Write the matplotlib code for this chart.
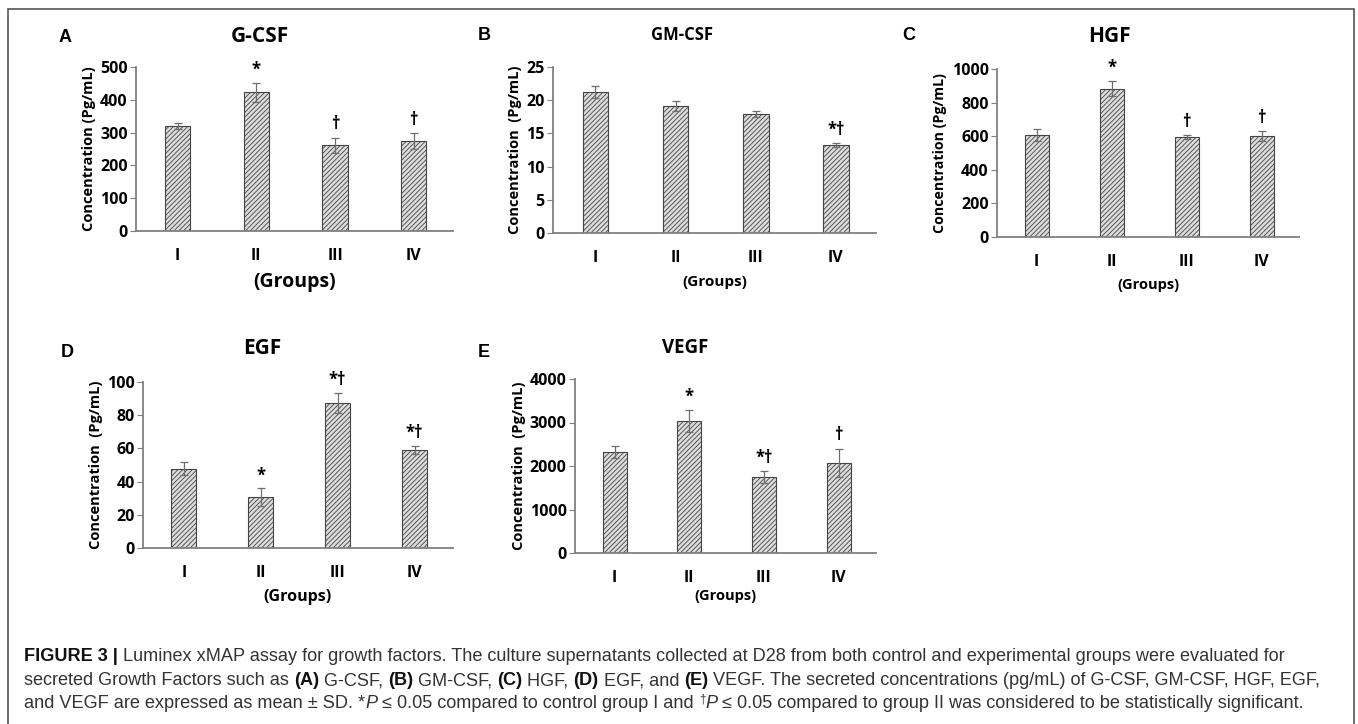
import matplotlib
matplotlib.use('Agg')
import numpy as np
import matplotlib.pyplot as plt
from matplotlib.patches import Rectangle

groups = ['I', 'II', 'III', 'IV']

gcsf = [321, 423, 261, 275]
gcsf_sd = [9, 29, 24, 24]
gcsf_sig = ['', '*', '†', '†']

gmcsf = [21.2, 19.1, 17.9, 13.2]
gmcsf_sd = [0.9, 0.8, 0.4, 0.3]
gmcsf_sig = ['', '', '', '*†']

hgf = [608, 883, 596, 600]
hgf_sd = [36, 45, 12, 28]
hgf_sig = ['', '*', '†', '†']

egf = [47.8, 30.7, 87.3, 58.8]
egf_sd = [3.8, 5.2, 5.9, 2.4]
egf_sig = ['', '*', '*†', '*†']

vegf = [2331, 3031, 1746, 2069]
vegf_sd = [138, 254, 138, 331]
vegf_sig = ['', '*', '*†', '†']

W, H = 1358, 724
fig = plt.figure(figsize=(W / 100, H / 100), dpi=100)
cfont = 'Open Sans'
plt.rcParams['hatch.linewidth'] = 0.6


def px_axes(x0, x1, ytop, ybot):
    return fig.add_axes([x0 / W, 1 - ybot / H, (x1 - x0) / W, (ybot - ytop) / H])


def panel(box, vals, sd, sig, ymax, step, title, tpos, tsize, letter, lpos,
          gsize, gy, ylab, ysize):
    ax = px_axes(*box)
    x = np.arange(len(vals))
    ax.bar(x, vals, width=0.32, color='#dcdcdc', edgecolor='#444444',
           hatch='///////', linewidth=0.8, zorder=2)
    ax.errorbar(x, vals, yerr=sd, fmt='none', ecolor='#6e6e6e',
                elinewidth=0.9, capsize=3, capthick=0.9, zorder=3)
    for xi, v, e, s in zip(x, vals, sd, sig):
        if s:
            ax.annotate(s, (xi, v + e), xytext=(0, 3), textcoords='offset points',
                        ha='center', va='bottom', fontsize=12, fontweight='bold',
                        family=[cfont, 'DejaVu Sans'])
    ax.set_xlim(-0.53, 3.5)
    ax.set_ylim(0, ymax)
    ax.set_yticks(np.arange(0, ymax + step / 2, step))
    ax.set_xticks(x)
    ax.set_xticklabels(groups)
    for sp in ['top', 'right']:
        ax.spines[sp].set_visible(False)
    for sp in ['left', 'bottom']:
        ax.spines[sp].set_color('#808080')
        ax.spines[sp].set_linewidth(1.3)
    ax.tick_params(axis='x', length=0, pad=12)
    ax.tick_params(axis='y', length=4, color='#808080', pad=2)
    for lab in ax.get_xticklabels() + ax.get_yticklabels():
        lab.set_family(cfont)
        lab.set_fontweight('bold')
        lab.set_fontsize(11.5)
    ax.set_ylabel(ylab, family=cfont, fontweight='bold', fontsize=ysize, labelpad=3)
    fig.text(tpos[0] / W, 1 - tpos[1] / H, title, ha='center', va='center',
             family=cfont, fontweight='bold', fontsize=tsize)
    fig.text(lpos[0] / W, 1 - lpos[1] / H, letter, ha='center', va='center',
             family='Liberation Sans', fontweight='bold', fontsize=13)
    fig.text((box[0] + box[1]) / 2 / W, 1 - gy / H, '(Groups)', ha='center',
             va='center', family=cfont, fontweight='bold', fontsize=gsize)
    return ax


panel((136, 453, 67, 231), gcsf, gcsf_sd, gcsf_sig, 500, 100, 'G-CSF', (260, 37), 15,
      'A', (65, 37), 14, 282, 'Concentration (Pg/mL)', 10.5)
panel((553, 876, 67, 233), gmcsf, gmcsf_sd, gmcsf_sig, 25, 5, 'GM-CSF', (682, 35), 12,
      'B', (484, 35), 11, 282, 'Concentration  (Pg/mL)', 10.5)
panel((997, 1299, 69, 237), hgf, hgf_sd, hgf_sig, 1000, 200, 'HGF', (1109, 36), 15,
      'C', (909, 36), 10.5, 285, 'Concentration (Pg/mL)', 10.2)
panel((143, 453, 382, 548), egf, egf_sd, egf_sig, 100, 20, 'EGF', (262, 348), 15,
      'D', (67, 353), 11.5, 597, 'Concentration  (Pg/mL)', 10.5)
panel((575, 876, 379, 553), vegf, vegf_sd, vegf_sig, 4000, 1000, 'VEGF', (685, 348), 13.5,
      'E', (484, 353), 10.5, 596, 'Concentration  (Pg/mL)', 10.5)

# frame round the whole figure
fig.patches.append(Rectangle((8 / W, -0.1), (1354 - 8) / W, 1.1 - 9 / H,
                             transform=fig.transFigure, fill=False,
                             edgecolor='#555555', linewidth=1.2))

# caption, written piece by piece
renderer = fig.canvas.get_renderer()
cap = 'Liberation Sans'
csize = 13.1


def rich_line(y, parts):
    xx = 24 / W
    for s, style in parts:
        kw = dict(fontsize=csize, family=[cap, 'DejaVu Sans'], color='#333333', va='baseline')
        yy = 1 - y / H
        if 'b' in style:
            kw['fontweight'] = 'bold'
            kw['color'] = '#111111'
        if 'i' in style:
            kw['style'] = 'italic'
        if 's' in style:
            kw['fontsize'] = csize * 0.65
            yy += 6 / H
        t = fig.text(xx, yy, s, **kw)
        xx += t.get_window_extent(renderer).width / W


rich_line(661, [('FIGURE 3 | ', 'b'),
                ('Luminex xMAP assay for growth factors. The culture supernatants collected at D28 '
                 'from both control and experimental groups were evaluated for', '')])
rich_line(685, [('secreted Growth Factors such as ', ''), ('(A)', 'b'), (' G-CSF, ', ''),
                ('(B)', 'b'), (' GM-CSF, ', ''), ('(C)', 'b'), (' HGF, ', ''),
                ('(D)', 'b'), (' EGF, and ', ''), ('(E)', 'b'),
                (' VEGF. The secreted concentrations (pg/mL) of G-CSF, GM-CSF, HGF, EGF,', '')])
rich_line(708, [('and VEGF are expressed as mean ± SD. *', ''), ('P', 'i'),
                (' ≤ 0.05 compared to control group I and ', ''), ('†', 's'), ('P', 'i'),
                (' ≤ 0.05 compared to group II was considered to be statistically significant.', '')])

fig.savefig('out.png', dpi=100)
